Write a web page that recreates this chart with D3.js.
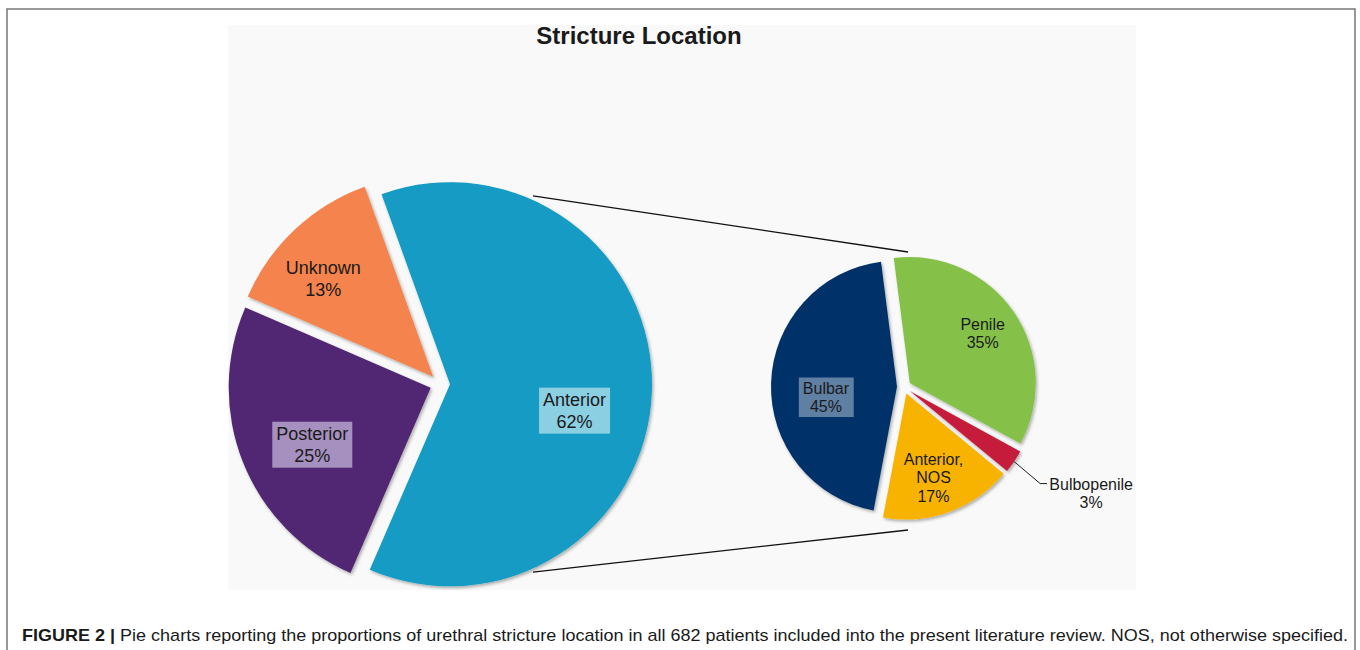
<!DOCTYPE html>
<meta charset="utf-8">
<style>
body { margin: 0; background: #fff; }
text { font-family: "Liberation Sans", Arial, sans-serif; fill: #1a1a1a; }
</style>
<svg width="1360" height="650"></svg>
<script src="https://d3js.org/d3.v7.min.js"></script>
<script>
// main pie: location of stricture
const mainCategories = ["Anterior", "Posterior", "Unknown"]
const mainValues = [62, 25, 13]
const mainColors = ["#139bc4", "#512873", "#f4834d"]
const mainBoxColors = ["#8bcfe3", "#a690bf", null]

// secondary pie: breakdown of anterior
const subCategories = ["Penile", "Bulbopenile", "Anterior, NOS", "Bulbar"]
const subValues = [35, 3, 17, 45]
const subColors = ["#85c14a", "#c51e3a", "#f8b300", "#003369"]
const subBoxColors = [null, null, null, "#5f7fa3"]

const title = "Stricture Location"
const captionBold = "FIGURE 2 |"
const captionText = " Pie charts reporting the proportions of urethral stricture location in all 682 patients included into the present literature review. NOS, not otherwise specified."

const svg = d3.select("svg")
const deg = Math.PI / 180

// shadow for slices
const defs = svg.append("defs")
defs.append("filter").attr("id", "shadow")
    .attr("x", "-10%").attr("y", "-10%").attr("width", "120%").attr("height", "120%")
  .append("feDropShadow")
    .attr("dx", 1.5).attr("dy", 2).attr("stdDeviation", 1.5)
    .attr("flood-color", "#000").attr("flood-opacity", 0.3)

// figure frame
svg.append("path")
    .attr("d", "M7,652 V9 H1355 V652")
    .attr("fill", "none")
    .attr("stroke", "#777")
    .attr("stroke-width", 1.5)

// chart area
svg.append("rect")
    .attr("x", 228).attr("y", 25)
    .attr("width", 908).attr("height", 565)
    .attr("fill", "#f9f9f9")

svg.append("text")
    .attr("x", 639).attr("y", 44)
    .attr("text-anchor", "middle")
    .attr("font-weight", "bold")
    .attr("font-size", 24)
    .text(title)

// caption, squeezed to the frame width
const caption = svg.append("text")
    .attr("x", 22).attr("y", 641)
    .attr("font-size", 17)
    .attr("textLength", 1326)
    .attr("lengthAdjust", "spacingAndGlyphs")
caption.append("tspan").attr("font-weight", "bold").text(captionBold)
caption.append("tspan").text(captionText)

function drawPie(opts) {
  const pie = d3.pie().sort(null)
      .startAngle(opts.start)
      .endAngle(opts.start + 2 * Math.PI)
  const arcs = pie(opts.values)
  const arc = d3.arc().innerRadius(0).outerRadius(opts.r)
  const g = svg.append("g").attr("transform", `translate(${opts.cx},${opts.cy})`)

  arcs.forEach((a, i) => {
    const mid = (a.startAngle + a.endAngle) / 2
    a.mid = mid
    a.ox = opts.explode * Math.sin(mid)
    a.oy = -opts.explode * Math.cos(mid)
  })

  g.selectAll("path.slice")
    .data(arcs)
    .join("path")
      .attr("class", "slice")
      .attr("transform", d => `translate(${d.ox},${d.oy})`)
      .attr("d", arc)
      .attr("fill", (d, i) => opts.colors[i])
      .attr("filter", "url(#shadow)")

  arcs.forEach((a, i) => {
    const name = opts.categories[i]
    const lines = name.includes(", ")
      ? [name.split(", ")[0] + ",", name.split(", ")[1]]
      : [name]
    lines.push(opts.values[i] + "%")
    const lp = opts.labelPos[i]
    let x, y
    if (lp.outside) {
      const p1 = [a.ox + opts.r * Math.sin(a.mid), a.oy - opts.r * Math.cos(a.mid)]
      const p2 = [p1[0] + 26, p1[1] + 22]
      const p3 = [p2[0] + 7, p2[1]]
      g.append("path")
          .attr("d", `M${p1[0]},${p1[1]} L${p2[0]},${p2[1]} L${p3[0]},${p3[1]}`)
          .attr("fill", "none").attr("stroke", "#222").attr("stroke-width", 1)
      x = p3[0] + 44
      y = p2[1] + 10
    } else {
      const ang = a.mid + lp.shift * deg
      x = a.ox + lp.k * opts.r * Math.sin(ang)
      y = a.oy - lp.k * opts.r * Math.cos(ang)
    }
    const lh = opts.lineHeight
    const firstBase = y - (lines.length - 1) * lh / 2 + opts.fontSize * 0.35
    const box = g.append("rect")
    const t = g.append("text")
        .attr("text-anchor", "middle")
        .attr("font-size", opts.fontSize)
    lines.forEach((ln, j) => {
      t.append("tspan").attr("x", x).attr("y", firstBase + j * lh).text(ln)
    })
    if (opts.boxColors[i]) {
      const bb = t.node().getBBox()
      box.attr("x", bb.x - 4).attr("y", bb.y - 2)
          .attr("width", bb.width + 8).attr("height", bb.height + 4)
          .attr("fill", opts.boxColors[i])
    } else {
      box.remove()
    }
  })
}

const left = {
  cx: 440, cy: 384, r: 202, explode: 10,
  start: -19.8 * deg,
  values: mainValues, categories: mainCategories,
  colors: mainColors, boxColors: mainBoxColors,
  fontSize: 18, lineHeight: 22,
  labelPos: [{k: 0.63, shift: 10}, {k: 0.65, shift: -4}, {k: 0.73, shift: -5}]
}
const right = {
  cx: 904, cy: 387, r: 126, explode: 7,
  start: -7.3 * deg,
  values: subValues, categories: subCategories,
  colors: subColors, boxColors: subBoxColors,
  fontSize: 16, lineHeight: 18.5,
  labelPos: [{k: 0.7, shift: 0}, {outside: true}, {k: 0.7, shift: 2}, {k: 0.57, shift: -10}]
}

// connector lines from the anterior slice to the breakdown pie
const la = 24 * deg
const ax = left.cx + left.explode, ay = left.cy
const rEnd = right.r + 13, ex = right.cx + 4, ey = right.cy + 4
svg.append("g")
  .selectAll("line")
  .data([-1, 1])
  .join("line")
    .attr("x1", s => ax + (left.r + 2) * Math.sin(la))
    .attr("y1", s => ay + s * (left.r + 4) * Math.cos(la))
    .attr("x2", ex)
    .attr("y2", s => ey + s * rEnd)
    .attr("stroke", "#111")
    .attr("stroke-width", 1.3)

drawPie(left)
drawPie(right)
</script>
